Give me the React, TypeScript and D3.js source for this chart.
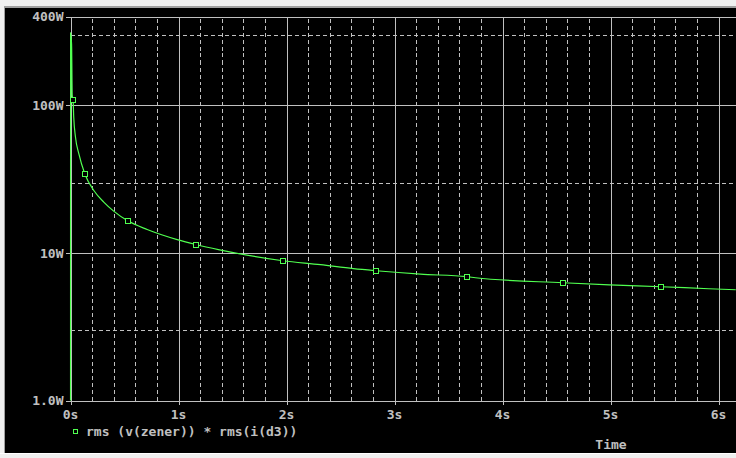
import { useEffect, useRef } from "react";
import * as d3 from "d3";

// trace samples: rms(v(zener)) * rms(i(d3))
const times = [
    0, 0.001, 0.01, 0.016, 0.024, 0.03, 0.046, 0.077, 0.132, 0.216, 0.308, 0.4, 0.53, 0.71, 0.988,
    1.16, 1.38, 1.966, 2.315, 2.62, 2.83, 3.24, 3.67, 3.75, 4.56, 4.99, 5.47, 5.91, 6.16,
];
const power = [
    1.0, 310, 259, 117, 108, 83, 61, 47, 34.4, 26.5, 22.1, 19.2, 16.5, 14.4, 12.3,
    11.4, 10.5, 8.85, 8.32, 7.82, 7.57, 7.18, 6.9, 6.79, 6.28, 6.08, 5.9, 5.72, 5.63,
];
// which samples carry a square marker
const markerIdx = [4, 8, 12, 15, 17, 20, 22, 24, 26];

const yTicks = [1, 10, 100, 400];
const yTickLabels = ["1.0W", "10W", "100W", "400W"];
const yMinor = [3, 30, 300];
const xTicks = [0, 1, 2, 3, 4, 5, 6];
const xTickLabels = ["0s", "1s", "2s", "3s", "4s", "5s", "6s"];
const legendLabel = "rms (v(zener)) * rms(i(d3))";
const xTitle = "Time";

export default function App() {
    const ref = useRef<SVGSVGElement>(null);

    useEffect(() => {
        if (!ref.current) return;
        const svg = d3.select(ref.current);
        svg.selectAll("*").remove();

        const W = 736;
        const H = 458;
        const left = 70.5;
        const top = 16.5;
        const bottom = 400.5;
        const right = W;
        const grid = "#c0c0c0";
        const green = "#50ff50";
        const font = "'DejaVu Sans Mono', monospace";

        // window frame
        svg.append("rect").attr("width", W).attr("height", H).attr("fill", "#f0f0f0");
        svg.append("rect").attr("x", 4).attr("y", 6).attr("width", W - 4).attr("height", 447).attr("fill", "#a0a0a0");
        svg.append("rect").attr("x", 5).attr("y", 8).attr("width", W - 5).attr("height", 445).attr("fill", "#000");
        svg.append("rect").attr("x", 0).attr("y", 453).attr("width", W).attr("height", 1).attr("fill", "#fff");

        const x = d3.scaleLinear().domain([0, (right - left) / 108]).range([left, right]);
        const y = d3.scaleLog().domain([1, 400]).range([bottom, top]);
        const [t0, t1] = x.domain();

        const g = svg.append("g").attr("shape-rendering", "crispEdges");

        // minor grid (dashed)
        const xMinor = d3.range(0.2, t1, 0.2).filter((t) => Math.abs(t - Math.round(t)) > 0.01);
        g.selectAll(".xminor")
            .data(xMinor)
            .enter()
            .append("line")
            .attr("x1", (d) => Math.round(x(d)) + 0.5)
            .attr("x2", (d) => Math.round(x(d)) + 0.5)
            .attr("y1", top + 2)
            .attr("y2", bottom)
            .attr("stroke", grid)
            .attr("stroke-dasharray", "4,3");
        g.selectAll(".yminor")
            .data(yMinor)
            .enter()
            .append("line")
            .attr("x1", left)
            .attr("x2", right)
            .attr("y1", (d) => Math.round(y(d)) + 0.5)
            .attr("y2", (d) => Math.round(y(d)) + 0.5)
            .attr("stroke", grid)
            .attr("stroke-dasharray", "4,3");

        // major grid + ticks
        g.selectAll(".xmajor")
            .data(xTicks)
            .enter()
            .append("line")
            .attr("x1", (d) => Math.round(x(d)) + 0.5)
            .attr("x2", (d) => Math.round(x(d)) + 0.5)
            .attr("y1", top)
            .attr("y2", bottom + 4)
            .attr("stroke", grid);
        g.selectAll(".ymajor")
            .data(yTicks)
            .enter()
            .append("line")
            .attr("x1", left - 5)
            .attr("x2", right)
            .attr("y1", (d) => Math.round(y(d)) + 0.5)
            .attr("y2", (d) => Math.round(y(d)) + 0.5)
            .attr("stroke", grid);

        // tick labels
        const txt = svg
            .append("g")
            .attr("font-family", font)
            .attr("font-size", 13)
            .attr("font-weight", "bold")
            .attr("fill", grid);
        txt.selectAll(".ylab")
            .data(yTicks)
            .enter()
            .append("text")
            .attr("x", left - 7)
            .attr("y", (d) => y(d))
            .attr("dy", "0.36em")
            .attr("text-anchor", "end")
            .text((d, i) => yTickLabels[i]);
        txt.selectAll(".xlab")
            .data(xTicks)
            .enter()
            .append("text")
            .attr("x", (d) => x(d))
            .attr("y", 419)
            .attr("text-anchor", "middle")
            .text((d, i) => xTickLabels[i]);
        txt.append("text").attr("x", 86).attr("y", 436).text(legendLabel);
        txt.append("text").attr("x", 611).attr("y", 449).attr("text-anchor", "middle").text(xTitle);

        // legend marker
        svg.append("rect")
            .attr("x", 73.5)
            .attr("y", 429.5)
            .attr("width", 4)
            .attr("height", 4)
            .attr("fill", "none")
            .attr("stroke", green)
            .attr("shape-rendering", "crispEdges");

        // trace
        svg.append("clipPath")
            .attr("id", "plot")
            .append("rect")
            .attr("x", left - 1)
            .attr("y", top)
            .attr("width", right - left + 1)
            .attr("height", bottom - top + 1);

        const pts = times.map((t, i) => [t, power[i]] as [number, number]);
        const line = d3
            .line<[number, number]>()
            .x((d) => x(d[0]))
            .y((d) => y(d[1]))
            .curve(d3.curveMonotoneX);

        const trace = svg.append("g").attr("clip-path", "url(#plot)");
        trace.append("path")
            .attr("d", line(pts))
            .attr("fill", "none")
            .attr("stroke", green)
            .attr("stroke-width", 1.2);

        trace.selectAll(".mk")
            .data(markerIdx)
            .enter()
            .append("rect")
            .attr("x", (d) => Math.round(x(times[d])) - 2.5)
            .attr("y", (d) => Math.round(y(power[d])) - 2.5)
            .attr("width", 5)
            .attr("height", 5)
            .attr("fill", "#000")
            .attr("stroke", green)
            .attr("shape-rendering", "crispEdges");

        void t0;
    }, []);

    return <svg ref={ref} width={736} height={458} style={{ position: "absolute", left: 0, top: 0 }} />;
}
